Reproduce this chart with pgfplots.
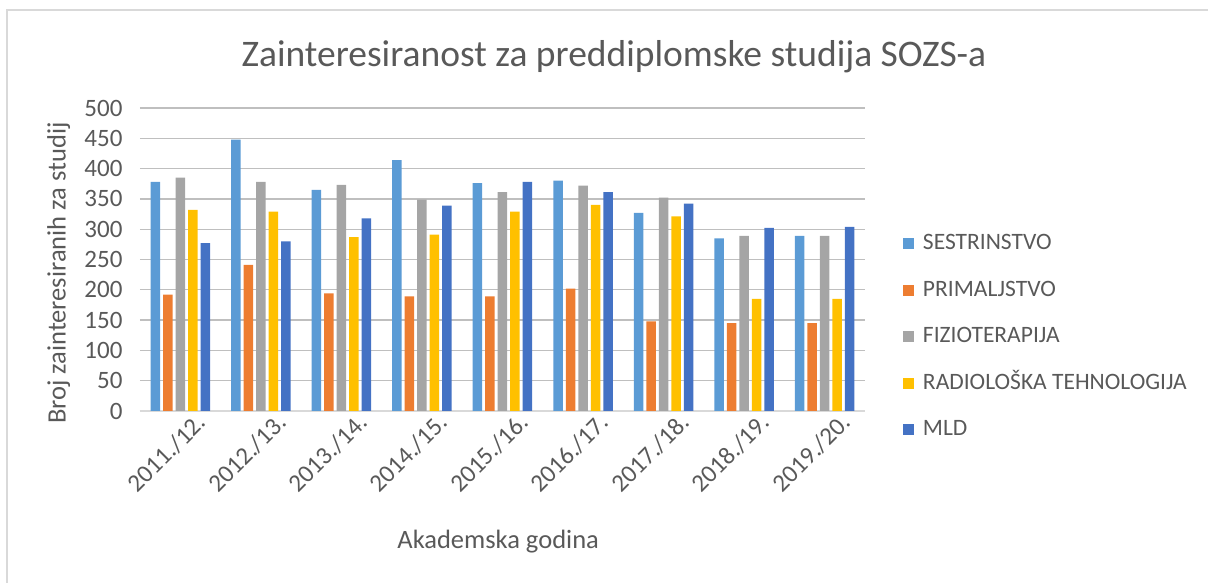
\documentclass[border=0pt]{standalone}
\usepackage{pgfplots}
\pgfplotsset{compat=1.18}
\usepackage{fontspec}
\setmainfont{Carlito}
\definecolor{cSES}{HTML}{5B9BD5}
\definecolor{cPRI}{HTML}{ED7D31}
\definecolor{cFIZ}{HTML}{A5A5A5}
\definecolor{cRAD}{HTML}{FFC000}
\definecolor{cMLD}{HTML}{4472C4}
\definecolor{txt}{HTML}{595959}
\definecolor{grid}{HTML}{D9D9D9}
\begin{document}
\begin{tikzpicture}[x=1pt,y=1pt]
\path[use as bounding box] (0,0) rectangle (1208,583);
\draw[grid, line width=1.5pt] (7,0) -- (7,573) -- (1208,573);
\node[txt, font=\fontsize{37.5}{42}\selectfont] at (614,526) {Zainteresiranost za preddiplomske studija SOZS-a};
\begin{axis}[
  at={(140pt,172pt)}, anchor=south west,
  width=725pt, height=303pt, scale only axis,
  ybar=3pt, bar width=9.5pt,
  xmin=-0.5, xmax=8.5, ymin=0, ymax=500,
  ytick={0,50,...,500},
  xtick={0,...,8},
  xticklabels={2011./12.,2012./13.,2013./14.,2014./15.,2015./16.,2016./17.,2017./18.,2018./19.,2019./20.},
  x tick label style={rotate=45, anchor=north east, inner sep=2pt, xshift=12pt, yshift=-9pt},
  tick label style={font=\fontsize{25}{28}\selectfont, text=txt},
  /pgf/number format/assume math mode=true,
  ymajorgrids, xmajorgrids=false, major grid style={grid, line width=1.3pt},
  xtick style={draw=none}, ytick style={draw=none},
  axis line style={draw=none},
  axis x line*=bottom,
  x axis line style={draw=grid, line width=1.3pt},
  axis y line*=left,
  major tick length=0pt,
  yticklabel style={xshift=-14pt},
  xlabel={Akademska godina},
  ylabel={Broj zainteresiranih za studij},
  label style={font=\fontsize{26.5}{30}\selectfont, text=txt},
  xlabel style={at={(axis description cs:0.494,-0.43)}, anchor=center},
  ylabel style={at={(axis description cs:-0.112,0.455)}, anchor=center},
  legend style={at={(1.048,0.245)}, anchor=west, draw=none, fill=none,
    font=\fontsize{23.5}{26}\selectfont, text=txt,
    row sep=24.5pt, column sep=8pt,
    nodes={inner sep=1pt, text height=16pt, text depth=4pt}},
  legend cell align=left,
  legend image code/.code={\fill[#1] (0pt,-5.5pt) rectangle (11pt,5.5pt);},
]
\addplot[fill=cSES, draw=none] coordinates {(0,378) (1,448) (2,365) (3,414) (4,376) (5,380) (6,327) (7,285) (8,289)};
\addplot[fill=cPRI, draw=none] coordinates {(0,192) (1,241) (2,194) (3,189) (4,189) (5,202) (6,148) (7,145) (8,145)};
\addplot[fill=cFIZ, draw=none] coordinates {(0,385) (1,378) (2,373) (3,349) (4,361) (5,372) (6,352) (7,289) (8,289)};
\addplot[fill=cRAD, draw=none] coordinates {(0,332) (1,329) (2,287) (3,291) (4,329) (5,340) (6,321) (7,185) (8,185)};
\addplot[fill=cMLD, draw=none] coordinates {(0,277) (1,280) (2,318) (3,339) (4,378) (5,361) (6,342) (7,302) (8,304)};
\legend{SESTRINSTVO,PRIMALJSTVO,FIZIOTERAPIJA,RADIOLOŠKA TEHNOLOGIJA,MLD}
\end{axis}
\end{tikzpicture}
\end{document}
